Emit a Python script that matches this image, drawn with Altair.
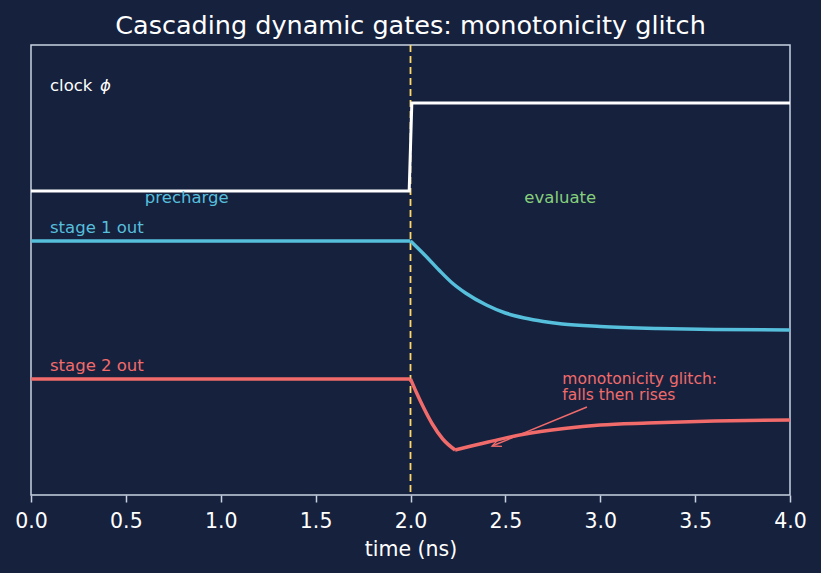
import altair as alt
import pandas as pd

# ---- data ----
clock_t = [0.0, 1.993, 2.007, 4.0]
clock_v = [3.04, 3.04, 3.92, 3.92]

# stage 1: flat precharge, then decay (segments kept separate so the kink at 2.0 stays sharp)
s1_t = [0.0, 2.0, 2.0, 2.075, 2.15, 2.22, 2.29, 2.4, 2.5, 2.6, 2.7, 2.8, 3.0, 3.3, 3.6, 4.0]
s1_v = [2.54, 2.54, 2.54, 2.40, 2.25, 2.12, 2.02, 1.90, 1.82, 1.77, 1.735, 1.71, 1.685, 1.665, 1.655, 1.65]
s1_seg = ["a", "a", "b", "b", "b", "b", "b", "b", "b", "b", "b", "b", "b", "b", "b", "b"]

# stage 2: flat, fall, then slow rise (glitch)
s2_t = [0.0, 2.0, 2.0, 2.03, 2.07, 2.115, 2.17, 2.235, 2.235, 2.41, 2.59, 2.81, 3.0, 3.25, 3.6, 4.0]
s2_v = [1.16, 1.16, 1.16, 1.03, 0.87, 0.71, 0.56, 0.45, 0.45, 0.53, 0.605, 0.665, 0.70, 0.72, 0.74, 0.75]
s2_seg = ["a", "a", "b", "b", "b", "b", "b", "b", "c", "c", "c", "c", "c", "c", "c", "c"]

edge_t = 2.0

label_text = ["clock", "stage 1 out", "stage 2 out", "precharge", "evaluate"]
label_t = [0.1, 0.1, 0.1, 0.6, 2.6]
label_v = [4.045, 2.62, 1.245, 2.92, 2.92]
label_color = ["#ffffff", "#56bfdc", "#f26b6b", "#56bfdc", "#86d07c"]

phi_text = ["\u03d5"]
phi_t = [0.1]
phi_v = [4.045]

note_text = ["monotonicity glitch:\nfalls then rises"]
note_t = [2.8]
note_v = [1.11]

arrow_t = [2.93, 2.43]   # tail, tip
arrow_v = [0.88, 0.49]

x_ticks = [0.0, 0.5, 1.0, 1.5, 2.0, 2.5, 3.0, 3.5, 4.0]

BG = "#16213e"
FRAME = "#c8d2e1"
C1 = "#56bfdc"
C2 = "#f26b6b"
YEL = "#ffd866"
FONT = "DejaVu Sans"

xs = alt.Scale(domain=[0, 4], nice=False, zero=False)
ys = alt.Scale(domain=[0, 4.5], nice=False, zero=False)

def xenc():
    return alt.X("t:Q", scale=xs,
                 axis=alt.Axis(values=x_ticks, format=".1f", title="time (ns)",
                               labelFlush=False, labelOverlap=False))

def yenc():
    return alt.Y("v:Q", scale=ys, axis=None)

rule = alt.Chart(pd.DataFrame({"t": [edge_t]})).mark_rule(
    color=YEL, strokeWidth=1.8, strokeDash=[7, 4]
).encode(x=alt.X("t:Q", scale=xs))

clock = alt.Chart(pd.DataFrame({"t": clock_t, "v": clock_v})).mark_line(
    color="#ffffff", strokeWidth=3
).encode(x=xenc(), y=yenc())

stage1 = alt.Chart(pd.DataFrame({"t": s1_t, "v": s1_v, "seg": s1_seg})).mark_line(
    color=C1, strokeWidth=3.5, interpolate="monotone", strokeJoin="round"
).encode(x=xenc(), y=yenc(), detail="seg:N")

stage2 = alt.Chart(pd.DataFrame({"t": s2_t, "v": s2_v, "seg": s2_seg})).mark_line(
    color=C2, strokeWidth=3.5, interpolate="monotone", strokeJoin="round"
).encode(x=xenc(), y=yenc(), detail="seg:N")

labels = alt.Chart(pd.DataFrame({"t": label_t, "v": label_v, "txt": label_text, "c": label_color})).mark_text(
    align="left", baseline="alphabetic", font=FONT, fontSize=16.5
).encode(x=xenc(), y=yenc(), text="txt:N", color=alt.Color("c:N", scale=None))

phi = alt.Chart(pd.DataFrame({"t": phi_t, "v": phi_v, "txt": phi_text})).mark_text(
    align="left", baseline="alphabetic", font=FONT, fontSize=16.5, fontStyle="italic",
    color="#ffffff", dx=50
).encode(x=xenc(), y=yenc(), text="txt:N")

notes = alt.Chart(pd.DataFrame({"t": note_t, "v": note_v, "txt": note_text})).mark_text(
    align="left", baseline="alphabetic", font=FONT, fontSize=15.5, color=C2,
    lineBreak="\n", lineHeight=16
).encode(x=xenc(), y=yenc(), text="txt:N")

arrow_line = alt.Chart(pd.DataFrame({"t": arrow_t, "v": arrow_v})).mark_line(
    color=C2, strokeWidth=1.4
).encode(x=xenc(), y=yenc())

arrow_head = alt.Chart(pd.DataFrame({"t": arrow_t[1:], "v": arrow_v[1:]})).mark_point(
    shape="M-0.45,1L0,0L0.45,1", filled=False, color=C2, strokeWidth=1.4,
    size=324, angle=248, opacity=1
).encode(x=xenc(), y=yenc())

chart = alt.layer(
    rule, clock, stage1, stage2, arrow_line, arrow_head, labels, phi, notes
).properties(
    width=759, height=450,
    title=alt.TitleParams("Cascading dynamic gates: monotonicity glitch",
                          font=FONT, fontSize=25.5, fontWeight="normal",
                          color="#ffffff", anchor="middle", offset=5),
    autosize=alt.AutoSizeParams(type="none"),
    padding={"left": 31, "top": 45, "right": 31, "bottom": 78},
    background=BG,
).configure_view(
    stroke=FRAME, strokeWidth=1.5, fill=BG
).configure_axis(
    domain=False, grid=False,
    tickColor=FRAME, tickSize=7, tickWidth=1.5,
    labelColor="#ffffff", labelFont=FONT, labelFontSize=20.5, labelPadding=9,
    titleColor="#ffffff", titleFont=FONT, titleFontSize=20.5, titleFontWeight="normal",
    titlePadding=8,
)

chart.save("out.html", embed_options={"renderer": "svg", "actions": False})
